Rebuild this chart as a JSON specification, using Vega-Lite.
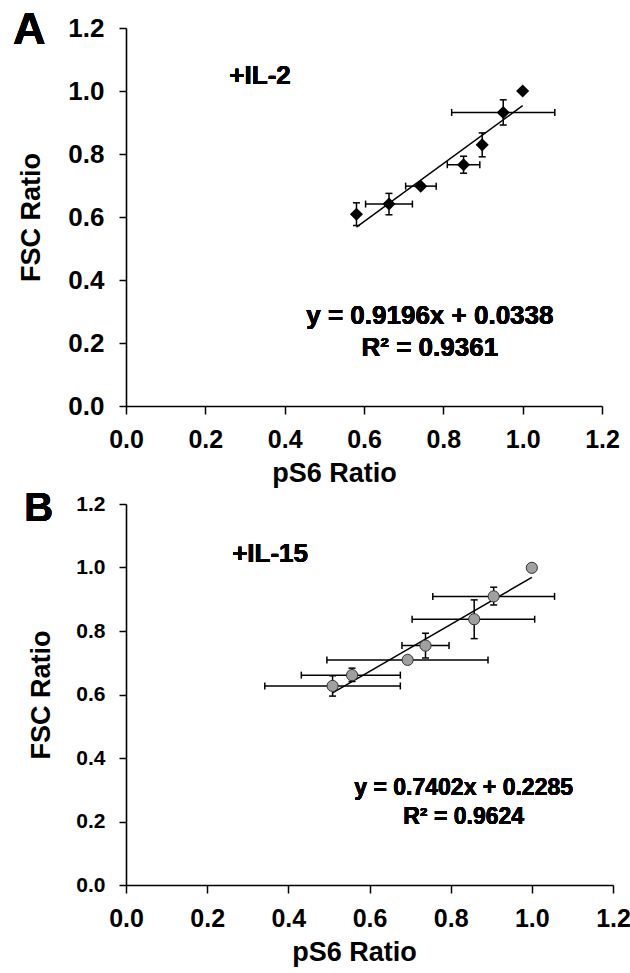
{
  "$schema": "https://vega.github.io/schema/vega-lite/v6.json",
  "padding": {"left": 12, "top": 8, "right": 5, "bottom": 5},
  "background": "white",
  "spacing": 3,
  "align": "none",
  "config": {
    "view": {"stroke": null},
    "axis": {
      "grid": false,
      "labelFlush": false,
      "labelOverlap": false,
      "domainColor": "black",
      "domainWidth": 1.6,
      "tickColor": "black",
      "tickWidth": 1.5,
      "tickSize": 7,
      "labelColor": "black",
      "labelFont": "Liberation Sans",
      "labelFontWeight": "bold",
      "titleColor": "black",
      "titleFont": "Liberation Sans",
      "titleFontWeight": "bold",
      "titleFontSize": 27
    }
  },
  "vconcat": [
    {
      "width": 476,
      "height": 378,
      "data": {"values": [
        {"x": 0.581, "y": 0.609, "ylo": 0.573, "yhi": 0.645},
        {"x": 0.663, "y": 0.641, "xlo": 0.604, "xhi": 0.722, "ylo": 0.607, "yhi": 0.675},
        {"x": 0.743, "y": 0.698, "xlo": 0.705, "xhi": 0.782},
        {"x": 0.851, "y": 0.766, "xlo": 0.810, "xhi": 0.892, "ylo": 0.739, "yhi": 0.793},
        {"x": 0.898, "y": 0.829, "ylo": 0.791, "yhi": 0.867},
        {"x": 0.951, "y": 0.932, "xlo": 0.821, "xhi": 1.081, "ylo": 0.892, "yhi": 0.972},
        {"x": 1.0, "y": 1.0}
      ]},
      "encoding": {
        "x": {"field": "x", "type": "quantitative",
          "scale": {"domain": [0, 1.2], "nice": false, "zero": false},
          "axis": {"title": "pS6 Ratio", "values": [0, 0.2, 0.4, 0.6, 0.8, 1.0, 1.2], "format": ".1f",
            "labelFontSize": 25, "labelPadding": 13, "tickSize": 8, "titlePadding": 8, "titleX": 208}},
        "y": {"field": "y", "type": "quantitative",
          "scale": {"domain": [0, 1.2], "nice": false, "zero": false},
          "axis": {"title": "FSC Ratio", "values": [0, 0.2, 0.4, 0.6, 0.8, 1.0, 1.2], "format": ".1f",
            "labelFontSize": 26, "labelPadding": 15, "titlePadding": 22}}
      },
      "layer": [
        {"transform": [{"filter": "isValid(datum.xlo)"}],
         "mark": {"type": "rule", "color": "black", "strokeWidth": 1.5},
         "encoding": {"x": {"field": "xlo", "type": "quantitative"}, "x2": {"field": "xhi"}}},
        {"transform": [{"filter": "isValid(datum.ylo)"}],
         "mark": {"type": "rule", "color": "black", "strokeWidth": 1.5},
         "encoding": {"y": {"field": "ylo", "type": "quantitative"}, "y2": {"field": "yhi"}}},
        {"transform": [{"filter": "isValid(datum.xlo)"}],
         "mark": {"type": "tick", "orient": "vertical", "color": "black", "size": 7, "thickness": 1.5, "opacity": 1},
         "encoding": {"x": {"field": "xlo", "type": "quantitative"}}},
        {"transform": [{"filter": "isValid(datum.xhi)"}],
         "mark": {"type": "tick", "orient": "vertical", "color": "black", "size": 7, "thickness": 1.5, "opacity": 1},
         "encoding": {"x": {"field": "xhi", "type": "quantitative"}}},
        {"transform": [{"filter": "isValid(datum.ylo)"}],
         "mark": {"type": "tick", "orient": "horizontal", "color": "black", "size": 7, "thickness": 1.5, "opacity": 1},
         "encoding": {"y": {"field": "ylo", "type": "quantitative"}}},
        {"transform": [{"filter": "isValid(datum.yhi)"}],
         "mark": {"type": "tick", "orient": "horizontal", "color": "black", "size": 7, "thickness": 1.5, "opacity": 1},
         "encoding": {"y": {"field": "yhi", "type": "quantitative"}}},
        {"data": {"values": [{"x": 0.581, "y": 0.5681}, {"x": 1.0, "y": 0.9534}]},
         "mark": {"type": "line", "color": "black", "strokeWidth": 1.5},
         "encoding": {}},
        {"mark": {"type": "point", "shape": "diamond", "filled": true, "color": "black", "size": 170, "opacity": 1}},
        {"mark": {"type": "text", "font": "Liberation Sans", "fontWeight": "bold", "fontSize": 26, "align": "center", "baseline": "alphabetic", "color": "black"},
         "encoding": {"x": {"datum": 0.338}, "y": {"datum": 1.0216}, "text": {"value": "+IL-2"}}},
        {"mark": {"type": "text", "font": "Liberation Sans", "fontWeight": "bold", "fontSize": 26, "align": "center", "baseline": "alphabetic", "color": "black"},
         "encoding": {"x": {"datum": 0.766}, "y": {"datum": 0.261}, "text": {"value": "y = 0.9196x + 0.0338"}}},
        {"mark": {"type": "text", "font": "Liberation Sans", "fontWeight": "bold", "fontSize": 26, "align": "center", "baseline": "alphabetic", "color": "black"},
         "encoding": {"x": {"datum": 0.766}, "y": {"datum": 0.160}, "text": {"value": "R² = 0.9361"}}},
        {"mark": {"type": "text", "font": "Liberation Sans", "fontWeight": "bold", "fontSize": 45, "align": "left", "baseline": "alphabetic", "color": "black"},
         "encoding": {"x": {"datum": -0.285}, "y": {"datum": 1.148}, "text": {"value": "A"}}}
      ]
    },
    {
      "width": 487,
      "height": 381,
      "data": {"values": [
        {"x": 0.509, "y": 0.627, "xlo": 0.342, "xhi": 0.676, "ylo": 0.595, "yhi": 0.659},
        {"x": 0.557, "y": 0.661, "xlo": 0.432, "xhi": 0.676, "ylo": 0.641, "yhi": 0.683},
        {"x": 0.694, "y": 0.709, "xlo": 0.495, "xhi": 0.892},
        {"x": 0.738, "y": 0.754, "xlo": 0.680, "xhi": 0.796, "ylo": 0.715, "yhi": 0.793},
        {"x": 0.858, "y": 0.837, "xlo": 0.705, "xhi": 1.007, "ylo": 0.776, "yhi": 0.898},
        {"x": 0.906, "y": 0.909, "xlo": 0.756, "xhi": 1.056, "ylo": 0.882, "yhi": 0.938},
        {"x": 1.0, "y": 0.999}
      ]},
      "encoding": {
        "x": {"field": "x", "type": "quantitative",
          "scale": {"domain": [0, 1.2], "nice": false, "zero": false},
          "axis": {"title": "pS6 Ratio", "values": [0, 0.2, 0.4, 0.6, 0.8, 1.0, 1.2], "format": ".1f",
            "labelFontSize": 25, "labelPadding": 13, "tickSize": 8, "titlePadding": 8, "titleX": 228}},
        "y": {"field": "y", "type": "quantitative",
          "scale": {"domain": [0, 1.2], "nice": false, "zero": false},
          "axis": {"title": "FSC Ratio", "values": [0, 0.2, 0.4, 0.6, 0.8, 1.0, 1.2], "format": ".1f",
            "labelFontSize": 21, "labelPadding": 14, "titlePadding": 20}}
      },
      "layer": [
        {"transform": [{"filter": "isValid(datum.xlo)"}],
         "mark": {"type": "rule", "color": "black", "strokeWidth": 1.5},
         "encoding": {"x": {"field": "xlo", "type": "quantitative"}, "x2": {"field": "xhi"}}},
        {"transform": [{"filter": "isValid(datum.ylo)"}],
         "mark": {"type": "rule", "color": "black", "strokeWidth": 1.5},
         "encoding": {"y": {"field": "ylo", "type": "quantitative"}, "y2": {"field": "yhi"}}},
        {"transform": [{"filter": "isValid(datum.xlo)"}],
         "mark": {"type": "tick", "orient": "vertical", "color": "black", "size": 7, "thickness": 1.5, "opacity": 1},
         "encoding": {"x": {"field": "xlo", "type": "quantitative"}}},
        {"transform": [{"filter": "isValid(datum.xhi)"}],
         "mark": {"type": "tick", "orient": "vertical", "color": "black", "size": 7, "thickness": 1.5, "opacity": 1},
         "encoding": {"x": {"field": "xhi", "type": "quantitative"}}},
        {"transform": [{"filter": "isValid(datum.ylo)"}],
         "mark": {"type": "tick", "orient": "horizontal", "color": "black", "size": 7, "thickness": 1.5, "opacity": 1},
         "encoding": {"y": {"field": "ylo", "type": "quantitative"}}},
        {"transform": [{"filter": "isValid(datum.yhi)"}],
         "mark": {"type": "tick", "orient": "horizontal", "color": "black", "size": 7, "thickness": 1.5, "opacity": 1},
         "encoding": {"y": {"field": "yhi", "type": "quantitative"}}},
        {"data": {"values": [{"x": 0.509, "y": 0.6053}, {"x": 1.0, "y": 0.9687}]},
         "mark": {"type": "line", "color": "black", "strokeWidth": 1.5},
         "encoding": {}},
        {"mark": {"type": "point", "shape": "circle", "filled": true, "fill": "#a0a0a0", "stroke": "#333333", "strokeWidth": 1, "size": 125, "opacity": 1}},
        {"mark": {"type": "text", "font": "Liberation Sans", "fontWeight": "bold", "fontSize": 26, "align": "center", "baseline": "alphabetic", "color": "black"},
         "encoding": {"x": {"datum": 0.355}, "y": {"datum": 1.016}, "text": {"value": "+IL-15"}}},
        {"mark": {"type": "text", "font": "Liberation Sans", "fontWeight": "bold", "fontSize": 23, "align": "center", "baseline": "alphabetic", "color": "black"},
         "encoding": {"x": {"datum": 0.832}, "y": {"datum": 0.282}, "text": {"value": "y = 0.7402x + 0.2285"}}},
        {"mark": {"type": "text", "font": "Liberation Sans", "fontWeight": "bold", "fontSize": 23, "align": "center", "baseline": "alphabetic", "color": "black"},
         "encoding": {"x": {"datum": 0.832}, "y": {"datum": 0.192}, "text": {"value": "R² = 0.9624"}}},
        {"mark": {"type": "text", "font": "Liberation Sans", "fontWeight": "bold", "fontSize": 40, "align": "left", "baseline": "alphabetic", "color": "black"},
         "encoding": {"x": {"datum": -0.251}, "y": {"datum": 1.145}, "text": {"value": "B"}}}
      ]
    }
  ]
}
